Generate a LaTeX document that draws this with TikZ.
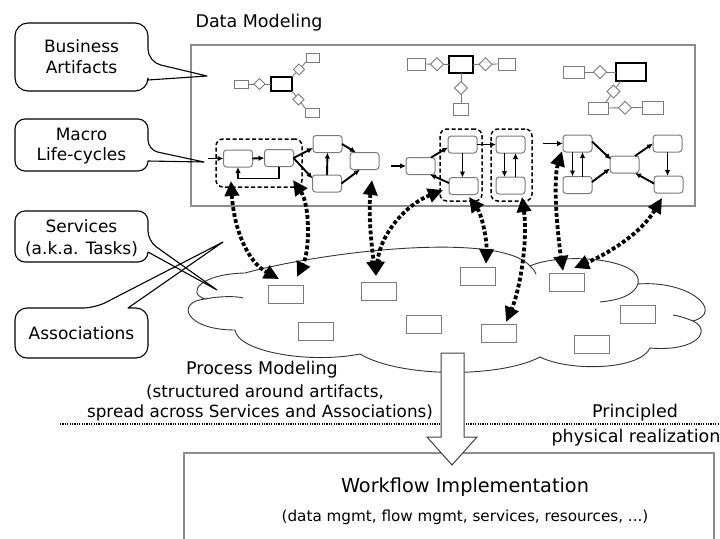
\documentclass[tikz,border=0pt]{standalone}
\usepackage{fontspec}
\setmainfont{DejaVu Sans}
\usetikzlibrary{arrows.meta,calc,shapes.geometric}
\definecolor{edgegray}{HTML}{7A7A7A}
\definecolor{framegray}{HTML}{8C8C8C}
\begin{document}
\begin{tikzpicture}[x=1pt,y=-1pt,
  every node/.style={inner sep=0pt, outer sep=0pt},
  big/.style={font=\fontsize{17.5}{21}\selectfont},
  mid/.style={font=\fontsize{16.8}{20}\selectfont},
  small/.style={font=\fontsize{15.2}{18}\selectfont},
  calltext/.style={font=\fontsize{17}{21}\selectfont, align=center},
  callout/.style={draw=black, line width=1.1pt, line join=round},
  frame/.style={draw=framegray, line width=1.2pt},
  state/.style={draw=edgegray, line width=1pt, fill=white, rounded corners=3pt,
    minimum width=29pt, minimum height=17pt},
  group/.style={draw=black, line width=1.5pt, dash pattern=on 4pt off 2.5pt, rounded corners=7pt},
  flow/.style={draw=black, line width=1.9pt, -{Latex[length=6pt,width=5.5pt]}},
  abox/.style={draw=edgegray, line width=1pt, fill=white},
  amain/.style={draw=black, line width=2.2pt, fill=white},
  adia/.style={diamond, draw=edgegray, line width=1pt, fill=white},
  alink/.style={draw=edgegray, line width=0.9pt},
  svc/.style={draw=edgegray, line width=1pt, fill=white, minimum width=35pt, minimum height=18pt},
  cloudline/.style={draw=black!80, line width=0.9pt},
  link/.style={line width=3.8pt, dash pattern=on 3.8pt off 2.3pt,
    {Triangle[length=15pt,width=14pt]}-{Triangle[length=15pt,width=14pt]}},
]
\useasboundingbox (0,0) rectangle (720,538);
\clip (0,0) rectangle (720,538);

% ---------- data modeling frame ----------
\node[frame, minimum width=504pt, minimum height=161pt] (dm) at (443,125.5) {};
\node[big] (tDM) at (259,23) {Data Modeling};

% ---------- business artifacts ----------
\node[abox, minimum width=14pt, minimum height=8pt] (p1l) at (241,84) {};
\node[amain, minimum width=21pt, minimum height=14pt] (p1m) at (281.5,84) {};
\node[abox, minimum width=13pt, minimum height=9pt] (p1u) at (312.5,57.5) {};
\node[abox, minimum width=14pt, minimum height=9pt] (p1d) at (312,112.5) {};
\draw[alink] (p1l.east) -- (p1m.west);
\draw[alink] (p1m.north east) -- (p1u.south west);
\draw[alink] (p1m.south east) -- (p1d.north west);
\node[adia, minimum width=11pt, minimum height=11pt] (q1a) at ($(p1l.east)!0.5!(p1m.west)$) {};
\node[adia, minimum width=11pt, minimum height=11pt] (q1b) at ($(p1m.north east)!0.5!(p1u.south west)$) {};
\node[adia, minimum width=11pt, minimum height=11pt] (q1c) at ($(p1m.south east)!0.5!(p1d.north west)$) {};

\node[abox, minimum width=18pt, minimum height=12pt] (p2l) at (416,64) {};
\node[amain, minimum width=24pt, minimum height=17pt] (p2m) at (461,64.5) {};
\node[abox, minimum width=17pt, minimum height=12pt] (p2r) at (506.5,64) {};
\node[abox, minimum width=15pt, minimum height=12pt] (p2d) at (460.5,109) {};
\draw[alink] (p2l.east) -- (p2m.west);
\draw[alink] (p2m.east) -- (p2r.west);
\draw[alink] (p2m.south) -- (p2m.south |- p2d.north);
\node[adia, minimum width=13pt, minimum height=13pt] (q2a) at ($(p2l.east)!0.5!(p2m.west)$) {};
\node[adia, minimum width=13pt, minimum height=13pt] (q2b) at ($(p2m.east)!0.5!(p2r.west)$) {};
\node[adia, minimum width=13pt, minimum height=13pt] (q2c) at ($(p2m.south)!0.5!(p2m.south |- p2d.north)$) {};

\node[abox, minimum width=21pt, minimum height=12pt] (p3l) at (573.5,72) {};
\node[amain, minimum width=30pt, minimum height=18pt] (p3m) at (631,72) {};
\node[abox, minimum width=20pt, minimum height=12pt] (p3b) at (598,108) {};
\node[abox, minimum width=21pt, minimum height=13pt] (p3r) at (652.5,107.5) {};
\draw[alink] (p3l.east) -- (p3m.west);
\draw[alink] ($(p3m.south west)+(5,0)$) -- ($(p3b.north east)+(-2,0)$);
\draw[alink] (p3b.east) -- (p3r.west);
\node[adia, minimum width=13pt, minimum height=13pt] (q3a) at ($(p3l.east)!0.5!(p3m.west)$) {};
\node[adia, minimum width=13pt, minimum height=13pt] (q3b) at ($($(p3m.south west)+(5,0)$)!0.5!($(p3b.north east)+(-2,0)$)$) {};
\node[adia, minimum width=13pt, minimum height=13pt] (q3c) at ($(p3b.east)!0.5!(p3r.west)$) {};

% ---------- macro life-cycles ----------
\node[group, minimum width=86pt, minimum height=48pt] (g1) at (259,163) {};
\node[group, minimum width=42pt, minimum height=72pt] (g2) at (461,165) {};
\node[group, minimum width=41pt, minimum height=72pt] (g3) at (511.5,165) {};

\node[state] (a1) at (238,158.5) {};
\node[state] (a2) at (279,158) {};
\node[state] (a3) at (327.5,144) {};
\node[state] (a4) at (327,183.5) {};
\node[state] (a5) at (364.5,161) {};
\node[state] (b1) at (420.5,166) {};
\node[state] (b2) at (462.5,144.5) {};
\node[state] (b3) at (463.5,186) {};
\node[state] (c1) at (510.5,144.5) {};
\node[state] (c2) at (510.5,185.5) {};
\node[state] (d1) at (577.5,143.5) {};
\node[state] (d2) at (577.5,185) {};
\node[state] (d3) at (624.5,164.5) {};
\node[state] (d4) at (667.5,143.5) {};
\node[state] (d5) at (668.5,184.5) {};

\coordinate (e1) at (208,158.5);
\coordinate (e2) at (391,166);
\coordinate (e3) at (543,143.5);

\draw[flow] (e1) -- (a1.west);
\draw[flow] (a1.east) -- (a2.west);
\draw[flow] (a2.south) -- ++(0,12) -| (a1.south);
\draw[flow] (a2.east) -- ($(a3.west)+(0,4)$);
\draw[flow] (a2.east) -- ($(a4.west)+(0,-5)$);
\draw[flow] (a4.north) -- (a3.south);
\draw[flow] (a3.east) -- ($(a5.north west)+(6,0)$);
\draw[flow] (a4.east) -- ($(a5.south west)+(10,0)$);

\draw[flow] (e2) -- (b1.west);
\draw[flow] ($(b1.north east)+(-4,0)$) -- ($(b2.west)+(0,3)$);
\draw[flow] ($(b3.west)+(0,-3)$) -- ($(b1.south east)+(-5,0)$);
\draw[flow] (b2.south) -- (b2.south |- b3.north);
\draw[flow] (b2.east) -- (c1.west);
\draw[flow] ($(c1.south)+(-6,0)$) -- ($(c2.north)+(-6,0)$);
\draw[flow] ($(c2.north)+(5,0)$) -- ($(c1.south)+(5,0)$);

\draw[flow] (e3) -- (d1.west);
\draw[flow] ($(d1.south)+(-5,0)$) -- ($(d2.north)+(-5,0)$);
\draw[flow] ($(d2.north)+(5,0)$) -- ($(d1.south)+(5,0)$);
\draw[flow] ($(d1.east)+(0,-2)$) -- ($(d3.west)+(1,-5)$);
\draw[flow] ($(d2.east)+(0,-3)$) -- ($(d3.west)+(0,4)$);
\draw[flow] ($(d3.north east)+(-4,0)$) -- (d4.west);
\draw[flow] (d4.south) -- (d4.south |- d5.north);
\draw[flow] ($(d5.west)+(0,-1)$) -- ($(d3.south east)+(-4,0)$);

% ---------- service cloud ----------
\draw[cloudline] (205,299) .. controls (186,293) and (200,274) .. (245,273)
  .. controls (330,250) and (500,232) .. (530,266)
  .. controls (560,252) and (645,258) .. (638,284)
  .. controls (690,280) and (725,312) .. (693,321)
  .. controls (712,330) and (698,352) .. (650,348)
  .. controls (640,370) and (570,372) .. (540,357)
  .. controls (500,378) and (400,378) .. (360,354)
  .. controls (310,364) and (238,352) .. (235,330)
  .. controls (185,330) and (175,302) .. (205,299) -- cycle;
\draw[cloudline] (205,299) .. controls (220,296) and (236,296) .. (243,298);
\draw[cloudline] (638,284) .. controls (634,295) and (620,300) .. (600,302);
\draw[cloudline] (693,321) .. controls (688,319) and (680,316) .. (673,315);
\draw[cloudline] (530,266) .. controls (533,268) and (535,271) .. (536,274);

\node[svc] (s1) at (285.5,294) {};
\node[svc] (s2) at (316,331) {};
\node[svc] (s3) at (378.5,291) {};
\node[svc] (s4) at (423.5,324) {};
\node[svc] (s5) at (477.5,276.5) {};
\node[svc] (s6) at (498.5,333.5) {};
\node[svc] (s7) at (566.5,282) {};
\node[svc] (s8) at (591.5,344) {};
\node[svc] (s9) at (637.5,314) {};

% ---------- callouts ----------
\draw[callout] (15,57) [rounded corners=13pt] -- (15,23) -- (148,23) -- (148,62)
  [sharp corners] -- (207,76) -- (148,80) [rounded corners=13pt] -- (148,91) -- (15,91) -- cycle;
\node[calltext] (tBA) at (81.5,57) {Business\\Artifacts};

\draw[callout] (15,145) [rounded corners=10pt] -- (15,119) -- (148,119) -- (148,150)
  [sharp corners] -- (204,162) -- (148,161) [rounded corners=10pt] -- (148,171) -- (15,171) -- cycle;
\node[calltext, font=\fontsize{17}{20}\selectfont] (tML) at (81.5,146) {Macro\\Life-cycles};

\draw[callout] (15,236) [rounded corners=10pt] -- (15,211) -- (148,211) -- (148,241)
  [sharp corners] -- (217,290) -- (148,252) [rounded corners=10pt] -- (148,262) -- (15,262) -- cycle;
\node[calltext, font=\fontsize{17}{22}\selectfont] (tSV) at (81.5,238) {Services\\(a.k.a. Tasks)};

\draw[callout] (15,333) [rounded corners=12pt] -- (15,308) -- (95,308)
  [sharp corners] -- (223,242) -- (128,308) [rounded corners=12pt] -- (148,308) -- (148,358) -- (15,358) -- cycle;
\node[calltext] (tAS) at (81.5,333) {Associations};

% ---------- links between life-cycles and services ----------
\coordinate (l1a) at (231,181);   \coordinate (l1b) at (279,279);
\coordinate (l2a) at (293,180);   \coordinate (l2b) at (297,277);
\coordinate (l3a) at (372,180);   \coordinate (l3b) at (376,276);
\coordinate (l4a) at (443,190);
\coordinate (l5a) at (469,197);   \coordinate (l5b) at (486,264);
\coordinate (l6a) at (522,197);   \coordinate (l6b) at (506,322);
\coordinate (l7a) at (562,151);   \coordinate (l7b) at (563,271);
\coordinate (l8a) at (662,198);   \coordinate (l8b) at (574,268);

\draw[link] (l1a) .. controls (234,230) and (248,262) .. (l1b);
\draw[link] (l2a) .. controls (310,205) and (310,250) .. (l2b);
\draw[link] (l3a) .. controls (368,215) and (372,250) .. (l3b);
\draw[link] (l4a) .. controls (405,205) and (380,235) .. (l3b);
\draw[link] (l5a) .. controls (482,215) and (487,240) .. (l5b);
\draw[link] (l6a) .. controls (528,240) and (520,290) .. (l6b);
\draw[link] (l7a) .. controls (553,180) and (557,230) .. (l7b);
\draw[link] (l8a) .. controls (640,235) and (605,255) .. (l8b);

% ---------- process modeling labels ----------
\node[big] (tPM) at (262,370) {Process Modeling};
\node[mid] (tPM1) at (265,392) {(structured around artifacts,};
\node[mid] (tPM2) at (260,413) {spread across Services and Associations)};

\draw[line width=1.1pt, dash pattern=on 1.2pt off 1.2pt] (60,424) -- (720,424);
\node[big] (tPR) at (635,413) {Principled};
\node[big] (tPR2) at (636,438) {physical realization};

% ---------- workflow implementation ----------
\node[frame, anchor=north west, minimum width=530pt, minimum height=110pt] (wf) at (184,453) {};
\draw[draw=black!75, line width=1pt, fill=white, line join=miter]
  (441,353) -- (441,437) -- (427,437) -- (452,465) -- (477,437) -- (464,437) -- (464,353) -- cycle;
\node[big, font=\fontsize{19.3}{23}\selectfont] (tWI) at (465,487) {Workflow Implementation};
\node[small] (tWI2) at (465,517) {(data mgmt, flow mgmt, services, resources, ...)};
\end{tikzpicture}
\end{document}
